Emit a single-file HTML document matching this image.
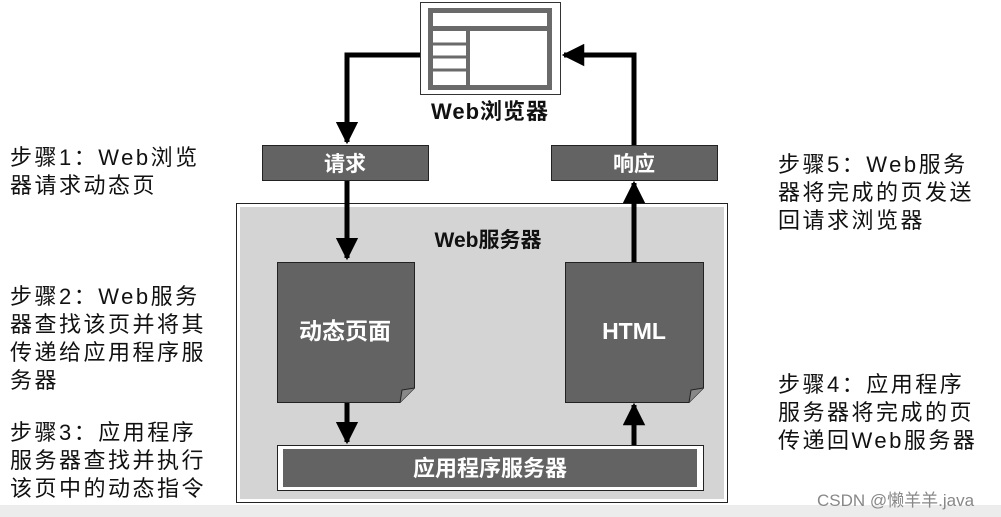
<!DOCTYPE html>
<html><head><meta charset="utf-8"><style>
body{margin:0;width:1001px;height:517px;background:#fff;position:relative;overflow:hidden;font-family:"Liberation Sans","Noto Sans CJK SC",sans-serif}
.a{position:absolute}
.t{position:absolute;font-size:22px;line-height:28px;color:#111;white-space:nowrap;letter-spacing:2.5px}
</style></head><body>
<div class="a" style="left:0;top:505px;width:1001px;height:12px;background:#ececec"></div>
<div class="a" style="left:236px;top:203px;width:490px;height:298px;border:1px solid #222;background:#d4d4d4;box-shadow:inset 0 0 0 3px #fff"></div>
<svg class="a" style="left:0;top:0" width="1001" height="517">
<defs><marker id="m" viewBox="0 0 10 10" refX="9" refY="5" markerWidth="4.5" markerHeight="4.5" orient="auto"><path d="M0,0L10,5L0,10z" fill="#000"/></marker></defs>
<g stroke="#000" stroke-width="5" fill="none">
<polyline points="420,55 347,55 347,142" marker-end="url(#m)"/>
<line x1="347" y1="180" x2="347" y2="258" marker-end="url(#m)"/>
<line x1="347" y1="402" x2="347" y2="442" marker-end="url(#m)"/>
<line x1="634" y1="445" x2="634" y2="405" marker-end="url(#m)"/>
<line x1="634" y1="262" x2="634" y2="183" marker-end="url(#m)"/>
<polyline points="634,145 634,55 564,55" marker-end="url(#m)"/>
</g>
<rect x="420.5" y="2.5" width="140" height="92" fill="#fff" stroke="#333"/>
<rect x="428" y="8" width="124" height="82" fill="#6a6a6a"/>
<rect x="433" y="13" width="114" height="13" fill="#fff"/>
<rect x="433" y="31" width="33" height="54" fill="#fff"/>
<rect x="470" y="31" width="77" height="54" fill="#fff"/>
<g stroke="#6a6a6a" stroke-width="3"><line x1="433" y1="44" x2="466" y2="44"/><line x1="433" y1="57" x2="466" y2="57"/><line x1="433" y1="70" x2="466" y2="70"/></g>
<rect x="262.5" y="145.5" width="166" height="35" fill="#636363" stroke="#222"/>
<rect x="551.5" y="145.5" width="166" height="35" fill="#636363" stroke="#222"/>
<path d="M277.5,262.5H414.5V388L400,402.5H277.5Z" fill="#636363" stroke="#222"/>
<path d="M400,402.5L402,390L414.5,388" fill="#888" stroke="#222"/>
<path d="M565.5,262.5H703.5V388L689,402.5H565.5Z" fill="#636363" stroke="#222"/>
<path d="M689,402.5L691,390L703.5,388" fill="#888" stroke="#222"/>
<rect x="277.5" y="445.5" width="426" height="45" fill="#fff" stroke="#222"/>
<rect x="283" y="449" width="414" height="38" fill="#636363"/>
<g font-family="Liberation Sans,Noto Sans CJK SC,sans-serif" font-weight="bold" text-anchor="middle">
<text x="490" y="119" font-size="22" fill="#111" letter-spacing="1">Web浏览器</text>
<text x="345" y="171" font-size="21" fill="#fff">请求</text>
<text x="634" y="171" font-size="21" fill="#fff">响应</text>
<text x="488" y="247" font-size="21" fill="#111">Web服务器</text>
<text x="345" y="339" font-size="23" fill="#fff">动态页面</text>
<text x="634" y="339" font-size="23" fill="#fff">HTML</text>
<text x="490" y="476" font-size="22" fill="#fff">应用程序服务器</text>
</g>
</svg>
<div class="t" style="left:10px;top:144px">步骤1：Web浏览<br>器请求动态页</div>
<div class="t" style="left:10px;top:283px">步骤2：Web服务<br>器查找该页并将其<br>传递给应用程序服<br>务器</div>
<div class="t" style="left:10px;top:419px">步骤3：应用程序<br>服务器查找并执行<br>该页中的动态指令</div>
<div class="t" style="left:778px;top:151px">步骤5：Web服务<br>器将完成的页发送<br>回请求浏览器</div>
<div class="t" style="left:778px;top:371px">步骤4：应用程序<br>服务器将完成的页<br>传递回Web服务器</div>
<div class="a" style="left:817px;top:486px;font-size:17px;color:#888">CSDN @懒羊羊.java</div>
</body></html>
